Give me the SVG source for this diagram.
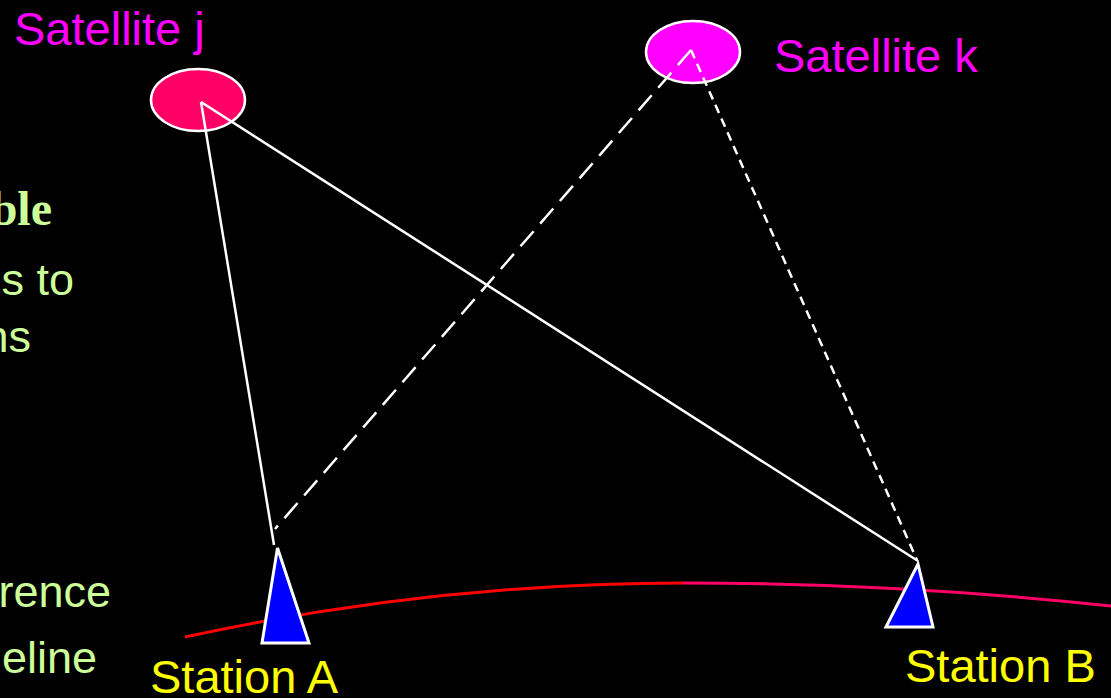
<svg xmlns="http://www.w3.org/2000/svg" width="1111" height="698" viewBox="0 0 1111 698">
<style>
.sans{font-family:"Liberation Sans",Arial,sans-serif;}
.sat{fill:#FF00FF;font-size:47px;}
.sta{fill:#FFFF00;font-size:47px;}
.side{fill:#CCFF99;font-size:45px;}
.ln{stroke:#FFFFFF;stroke-width:2.5;fill:none;}
.tri{fill:#0000FF;stroke:#FFFFFF;stroke-width:3;stroke-linejoin:miter;}
</style>
<rect width="1111" height="698" fill="#000000"/>
<g id="side-text">
<text x="52" y="225" text-anchor="end" style="font-family:'Liberation Serif','Times New Roman',serif;font-weight:bold;font-size:48px;fill:#CCFF99">ble</text>
<text class="sans side" x="74" y="295" text-anchor="end">s to</text>
<text class="sans side" x="31" y="352" text-anchor="end">ns</text>
<text class="sans side" x="111" y="607" text-anchor="end">rence</text>
<text class="sans side" x="97" y="673" text-anchor="end">eline</text>
</g>
<g id="earth">
<path d="M185,637 Q434,583 683,583" stroke="#FF0000" stroke-width="3" fill="none"/>
<path d="M683,583 Q897,583 1111,606" stroke="#FF0066" stroke-width="3" fill="none"/>
</g>
<g id="satellite-j">
<ellipse cx="198" cy="100" rx="47" ry="31" fill="#FF0066" stroke="#FFFFFF" stroke-width="2.5"/>
<text class="sans sat" x="14" y="45">Satellite j</text>
</g>
<g id="satellite-k">
<ellipse cx="693" cy="52" rx="47" ry="31" fill="#FF00FF" stroke="#FFFFFF" stroke-width="2.5"/>
<text class="sans sat" x="774" y="72">Satellite k</text>
</g>
<g id="connectors">
<line class="ln" x1="201" y1="102" x2="274" y2="545"/>
<line class="ln" x1="201" y1="102" x2="918" y2="561"/>
<line class="ln" x1="691" y1="50" x2="275" y2="529" stroke-dasharray="20,10"/>
<line class="ln" x1="691" y1="50" x2="917" y2="560" stroke-dasharray="9,6"/>
</g>
<g id="station-a">
<polygon class="tri" points="277.5,548 262,643 309,643"/>
<text class="sans sta" x="150" y="693">Station A</text>
</g>
<g id="station-b">
<polygon class="tri" points="918,564 886,627 933,627"/>
<text class="sans sta" x="905" y="682">Station B</text>
</g>
</svg>
